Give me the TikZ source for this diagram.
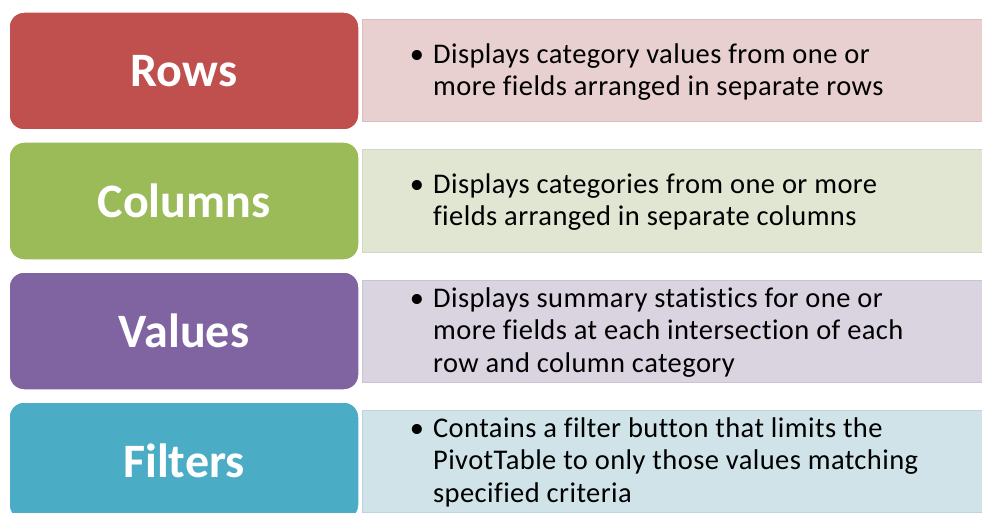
\documentclass[tikz,border=0pt]{standalone}
\usepackage{fontspec}
\setmainfont{Carlito}[Ligatures=CommonOff]
\newfontfamily\bodyfont{Carlito}[Ligatures=CommonOff,LetterSpace=1.5]
\usetikzlibrary{positioning}
\definecolor{rowRed}{HTML}{C0504D}
\definecolor{colGreen}{HTML}{9BBB59}
\definecolor{valPurple}{HTML}{8064A2}
\definecolor{filtBlue}{HTML}{4BACC6}
\newcommand{\bul}[1]{\begin{tabular}{@{}l@{\hspace{9pt}}l@{}}\textbullet & #1\end{tabular}}

\begin{document}
\begin{tikzpicture}[x=1pt,y=-1pt,
  hd/.style={draw=white,line width=1.5pt,rounded corners=15pt,minimum width=350pt,minimum height=118pt,
    text=white,font=\fontsize{48}{56}\selectfont\bfseries},
  ds/.style={draw=#1!28!white!92!black,line width=1pt,fill=#1!22!white!96!black,minimum width=622pt,minimum height=102pt},
  tx/.style={inner sep=0pt,yshift=-2pt,font=\bodyfont\fontsize{28.5}{32.5}\selectfont,align=left}]
\useasboundingbox (0,0) rectangle (982,513);
\clip (0,0) rectangle (982,513);
% headers
\node[hd,fill=rowRed] (rows) at (184,71) {Rows};
\node[hd,fill=colGreen,below=10.5pt of rows] (cols) {Columns};
\node[hd,fill=valPurple,below=10.5pt of cols] (vals) {Values};
\node[hd,fill=filtBlue,below=10.5pt of vals] (filt) {Filters};
% descriptions
\node[ds=rowRed,right=2pt of rows] (rowsd) {};
\node[ds=colGreen,right=2pt of cols] (colsd) {};
\node[ds=valPurple,right=2pt of vals] (valsd) {};
\node[ds=filtBlue,right=2pt of filt] (filtd) {};
\node[tx,right=48pt of rowsd.west] (rowst) {\bul{Displays category values from one or\\ & more fields arranged in separate rows}};
\node[tx,right=48pt of colsd.west] (colst) {\bul{Displays categories from one or more\\ & fields arranged in separate columns}};
\node[tx,right=48pt of valsd.west] (valst) {\bul{Displays summary statistics for one or\\ & more fields at each intersection of each\\ & row and column category}};
\node[tx,right=48pt of filtd.west] (filtt) {\bul{Contains a filter button that limits the\\ & PivotTable to only those values matching\\ & specified criteria}};
\end{tikzpicture}
\end{document}
